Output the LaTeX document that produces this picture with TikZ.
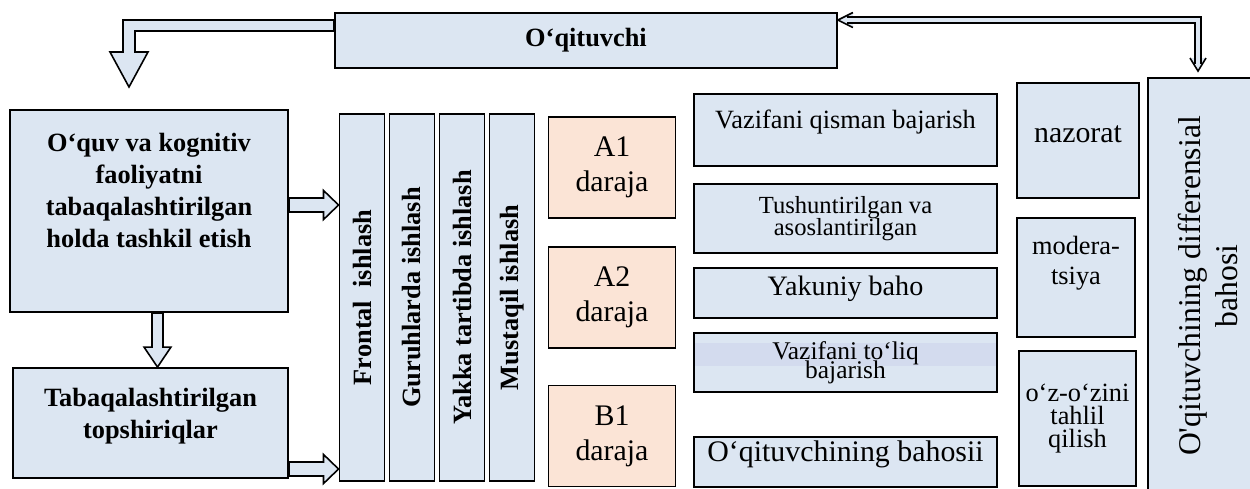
\documentclass[tikz,border=0pt]{standalone}
\usepackage{fontspec}
\setmainfont{Liberation Serif}
\newfontfamily\plainserif{Liberation Serif}[Ligatures=TeXOff]
\usetikzlibrary{calc}

\definecolor{boxblue}{RGB}{220,230,242}
\definecolor{levelpeach}{RGB}{251,228,214}
\definecolor{bandblue}{RGB}{211,219,238}

\def\u{0.02cm}
\newcommand\fsz[2]{\fontsize{#1}{#2}\selectfont\lineskiplimit=-20pt\relax}

% hollow block arrows, from point #1 to tip #2
\newcommand\fatright[2]{%
  \draw[fatarrow] ($(#1)+(0,-7)$) -- ($(#2)+(-15,-7)$) -- ($(#2)+(-15,-14.5)$) --
      (#2) -- ($(#2)+(-15,14.5)$) -- ($(#2)+(-15,7)$) -- ($(#1)+(0,7)$) -- cycle;}
\newcommand\fatdown[2]{%
  \draw[fatarrow] ($(#1)+(-5.5,0)$) -- ($(#2)+(-5.5,-20)$) -- ($(#2)+(-13.5,-20)$) --
      (#2) -- ($(#2)+(13.5,-20)$) -- ($(#2)+(5.5,-20)$) -- ($(#1)+(5.5,0)$) -- cycle;}

\begin{document}
\begin{tikzpicture}[x=\u, y=-\u,
    blk/.style={draw, line width=1.1pt, fill=boxblue, inner sep=2pt, align=center},
    lvl/.style={blk, fill=levelpeach},
    fatarrow/.style={draw, line width=0.9pt, fill=boxblue, line join=miter},
    dblline/.style={double=boxblue, double distance=2.6pt, line width=0.8pt},
    barb/.style={line width=0.9pt, line join=miter}]
  \useasboundingbox (0,0) rectangle (1250,488);

  % --
  \node[blk, minimum width=502*\u, minimum height=55*\u, font=\bfseries\fsz{15}{18}]
    (teacher) at (586,40.5) {O‘qituvchi};

  \node[blk, minimum width=278*\u, minimum height=202*\u, text depth=0.84cm,
    font=\bfseries\fsz{15}{18.2}] (plan) at (149,211)
    {O‘quv va kognitiv\\faoliyatni\\tabaqalashtirilgan\\holda tashkil etish};
  \node[blk, minimum width=275*\u, minimum height=110*\u, text depth=0.4cm,
    font=\bfseries\fsz{15}{18.2}] (tasks) at (150.5,423)
    {Tabaqalashtirilgan\\topshiriqlar};

  % -- forms of work
  \foreach\name/\txt [count=\i from 0] in {front/Frontal~ ishlash,
      group/Guruhlarda ishlash, solo/Yakka tartibda ishlash, self/Mustaqil ishlash} {
    \edef\x{362 + 50 * \i}
    \node[blk, rotate=90, minimum width=367*\u, minimum height=45*\u,
      font=\bfseries\fsz{15}{18}] (\name) at (\x, 297.5) {\txt};
  }

  % -- levels
  \foreach\lv/\y [count=\i] in {A1/167.5, A2/297.5, B1/436} {
    \node[lvl, minimum width=127*\u, minimum height=101*\u, font=\fsz{17}{20}]
      (lv\i) at (612, \y) {\lv\\daraja};
  }

  % -- results
  \node[blk, minimum width=303*\u, minimum height=72*\u, text depth=0.44cm,
    font=\fsz{15}{18}] (part) at (845.5,130) {Vazifani qisman bajarish};
  \node[blk, minimum width=303*\u, minimum height=69*\u, font=\fsz{14}{12.6}]
    (expl) at (845.5,218.5) {Tushuntirilgan va\\asoslantirilgan};
  \node[blk, minimum width=303*\u, minimum height=50*\u, text depth=0.28cm,
    font=\fsz{16}{18}] (final) at (845.5,293) {Yakuniy baho};
  \node[blk, minimum width=303*\u, minimum height=59*\u, font=\fsz{14.5}{11},
    path picture={\fill[bandblue] ($(path picture bounding box.north west)+(0,10)$)
      rectangle ($(path picture bounding box.north east)+(0,33)$);}]
    (full) at (845.5,362.5) {Vazifani to‘liq\\bajarish};
  \node[blk, minimum width=303*\u, minimum height=50*\u, text depth=0.44cm,
    font=\fsz{17}{20}] (tgrade) at (845.5,462) {O‘qituvchining bahosii};

  % -- control
  \node[blk, minimum width=122*\u, minimum height=115*\u, text depth=0.24cm,
    font=\fsz{17}{20}] (ctrl) at (1078,140.5) {nazorat};
  \node[blk, minimum width=118*\u, minimum height=119*\u, text depth=0.7cm,
    font=\fsz{15}{17}] (moder) at (1076,277.5) {modera-\\tsiya};
  \node[blk, minimum width=117*\u, minimum height=135*\u, inner sep=0pt,
    font=\fsz{15}{13.2}] (selfan) at (1077.5,418.5) {o‘z-o‘zini\\tahlil\\qilish};

  \node[blk, rotate=90, minimum width=416*\u, minimum height=120*\u,
    font=\plainserif\fsz{18}{21}] (diff) at (1208,286)
    {O'qituvchining differensial\\bahosi};

  % -- arrows
  \coordinate (tA) at (teacher.west |- 0,25.5);
  \coordinate (tB) at (129,87);
  \draw[fatarrow] ($(tA)+(0,-5.5)$) -- ($(tB |- tA)+(-6,-5.5)$) -- ($(tB)+(-6,-35)$) --
      ($(tB)+(-19,-35)$) -- (tB) -- ($(tB)+(19,-35)$) -- ($(tB)+(6,-35)$) --
      ($(tB |- tA)+(6,5.5)$) -- ($(tA)+(0,5.5)$) -- cycle;

  \coordinate (dA) at (plan.south -| 157.5,0);
  \coordinate (dB) at (tasks.north -| 157.5,0);
  \fatdown{dA}{dB}

  \coordinate (rA) at (plan.east |- 0,205);
  \coordinate (rB) at (front.north |- 0,205);
  \fatright{rA}{rB}
  \coordinate (sA) at (tasks.east |- 0,469);
  \coordinate (sB) at (front.north |- 0,469);
  \fatright{sA}{sB}

  % two-way double arrow
  \coordinate (lt) at (teacher.east |- 0,20);
  \coordinate (bt) at ($(diff.east -| 1198,0)+(0,-6)$);
  \fill[boxblue] (lt) -- ($(lt)+(15,-7.5)$) -- ($(lt)+(15,7.5)$) -- cycle;
  \fill[boxblue] (bt) -- ($(bt)+(-8,-13)$) -- ($(bt)+(8,-13)$) -- cycle;
  \draw[dblline] ($(lt)+(9,0)$) -| ($(bt)+(0,-7)$);
  \draw[barb] ($(lt)+(15,-7.5)$) -- (lt) -- ($(lt)+(15,7.5)$);
  \draw[barb] ($(bt)+(-8,-13)$) -- (bt) -- ($(bt)+(8,-13)$);

\end{tikzpicture}
\end{document}
